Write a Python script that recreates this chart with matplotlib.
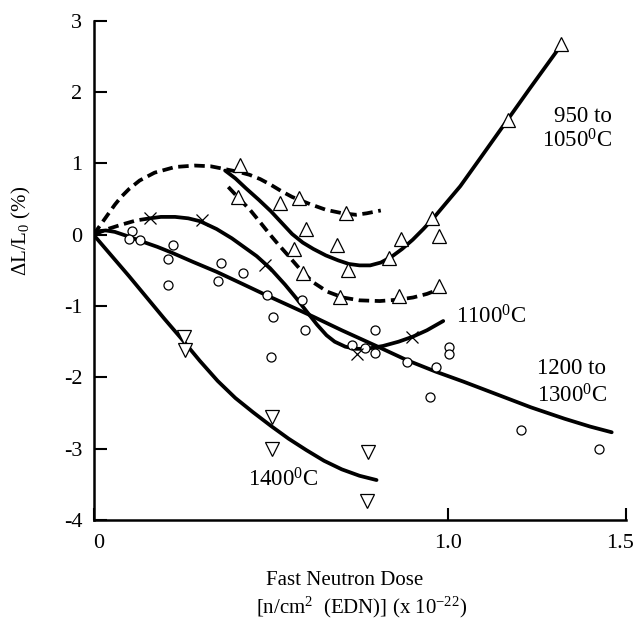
import matplotlib
matplotlib.use("Agg")
import matplotlib.pyplot as plt
import matplotlib.transforms as mtransforms

plt.rcParams['font.family'] = ['Liberation Serif', 'DejaVu Serif']
plt.rcParams['mathtext.fontset'] = 'custom'
plt.rcParams['mathtext.rm'] = 'Liberation Serif'
plt.rcParams['mathtext.it'] = 'Liberation Serif:italic'
plt.rcParams['axes.unicode_minus'] = False

# ---------------- data ----------------
# 950 to 1050 C  (open up-triangles)
tri_x = [1.317, 1.169, 0.413, 0.407, 0.526, 0.580, 0.598, 0.565, 0.687, 0.590,
         0.711, 0.717, 0.695, 0.834, 0.866, 0.953, 0.975, 0.860, 0.975]
tri_y = [2.67, 1.61, 0.98, 0.53, 0.44, 0.52, 0.08, -0.20, -0.14, -0.54,
         0.30, -0.49, -0.87, -0.32, -0.06, 0.23, -0.02, -0.86, -0.72]

# 1200 to 1300 C  (open circles)
circ_x = [0.109, 0.101, 0.131, 0.223, 0.209, 0.211, 0.359, 0.352, 0.422, 0.490,
          0.505, 0.500, 0.589, 0.596, 0.728, 0.765, 0.794, 0.794, 0.885, 0.965,
          1.003, 1.001, 0.949, 1.204, 1.426]
circ_y = [0.05, -0.06, -0.08, -0.15, -0.34, -0.70, -0.39, -0.65, -0.54, -0.85,
          -1.16, -1.71, -0.91, -1.34, -1.55, -1.59, -1.34, -1.66, -1.78, -1.86,
          -1.58, -1.67, -2.28, -2.74, -3.01]

# 1100 C  (crosses)
cross_x = [0.159, 0.305, 0.484, 0.744, 0.897]
cross_y = [0.23, 0.21, -0.42, -1.67, -1.44]

# 1400 C  (open down-triangles)
dtri_x = [0.256, 0.258, 0.502, 0.502, 0.775, 0.770]
dtri_y = [-1.43, -1.62, -2.55, -3.00, -3.04, -3.73]

# fitted curves
c950_x = [0.371, 0.40, 0.43, 0.466, 0.50, 0.53, 0.56, 0.59, 0.62, 0.655, 0.69,
          0.72, 0.75, 0.78, 0.81, 0.84, 0.87, 0.90, 0.93, 0.958, 0.99, 1.034,
          1.09, 1.15, 1.23, 1.307]
c950_y = [0.90, 0.79, 0.65, 0.49, 0.33, 0.17, 0.01, -0.11, -0.20, -0.29, -0.36,
          -0.41, -0.43, -0.43, -0.39, -0.31, -0.20, -0.07, 0.08, 0.23, 0.42, 0.68,
          1.07, 1.49, 2.05, 2.58]

top_dash_x = [0.0, 0.02, 0.04, 0.06, 0.078, 0.10, 0.13, 0.172, 0.23, 0.286,
              0.33, 0.371, 0.41, 0.44, 0.47, 0.50, 0.53, 0.56, 0.61, 0.655,
              0.703, 0.74, 0.77, 0.81]
top_dash_y = [0.0, 0.14, 0.28, 0.42, 0.53, 0.64, 0.76, 0.87, 0.95, 0.97,
              0.96, 0.92, 0.88, 0.84, 0.78, 0.70, 0.61, 0.53, 0.43, 0.35,
              0.30, 0.28, 0.30, 0.34]

low_dash_x = [0.38, 0.41, 0.441, 0.469, 0.498, 0.52, 0.545, 0.58, 0.617, 0.66,
              0.703, 0.75, 0.807, 0.86, 0.901, 0.94, 0.977]
low_dash_y = [0.67, 0.51, 0.35, 0.18, 0.0, -0.13, -0.27, -0.47, -0.66, -0.80,
              -0.88, -0.92, -0.93, -0.91, -0.88, -0.83, -0.76]

c1100_dash_x = [0.0, 0.04, 0.078, 0.12, 0.159]
c1100_dash_y = [0.0, 0.08, 0.14, 0.20, 0.23]
c1100_x = [0.159, 0.19, 0.23, 0.267, 0.30, 0.347, 0.39, 0.418, 0.46, 0.498,
           0.54, 0.57, 0.60, 0.63, 0.657, 0.68, 0.71, 0.74, 0.77, 0.816,
           0.86, 0.90, 0.94, 0.986]
c1100_y = [0.23, 0.25, 0.25, 0.23, 0.19, 0.08, -0.05, -0.15, -0.30, -0.47,
           -0.70, -0.88, -1.07, -1.26, -1.41, -1.50, -1.57, -1.60, -1.60, -1.56,
           -1.50, -1.43, -1.34, -1.21]

c1200_x = [0.0, 0.015, 0.035, 0.06, 0.09, 0.134, 0.18, 0.22, 0.28, 0.347,
           0.42, 0.488, 0.55, 0.62, 0.70, 0.793, 0.884, 0.965, 1.043, 1.138,
           1.233, 1.328, 1.40, 1.461]
c1200_y = [0.0, 0.05, 0.06, 0.04, -0.01, -0.09, -0.17, -0.25, -0.38, -0.52,
           -0.69, -0.85, -0.99, -1.15, -1.34, -1.55, -1.76, -1.92, -2.06, -2.24,
           -2.42, -2.58, -2.69, -2.77]

c1400_x = [0.0, 0.05, 0.10, 0.15, 0.20, 0.25, 0.30, 0.35, 0.40, 0.45, 0.50,
           0.55, 0.60, 0.65, 0.70, 0.75, 0.798]
c1400_y = [0.0, -0.29, -0.58, -0.88, -1.18, -1.47, -1.77, -2.05, -2.29, -2.49,
           -2.68, -2.86, -3.02, -3.17, -3.29, -3.38, -3.44]

x_ticks = [0.0, 1.0, 1.5]
x_tick_labels = ['0', '1.0', '1.5']
y_ticks = [-4, -3, -2, -1, 0, 1, 2, 3]
y_tick_labels = ['-4', '-3', '-2', '-1', '0', '1', '2', '3']

# ---------------- figure ----------------
fig = plt.figure(figsize=(6.37, 6.28), dpi=100)
ax = fig.add_axes([0.1468, 0.1720, 0.8352, 0.7949])

lw = 2.7
dash = (0, (2.8, 1.5))
kw = dict(color='black', lw=lw, solid_capstyle='round', solid_joinstyle='round',
          zorder=2)
ax.plot(c950_x, c950_y, **kw)
ax.plot(top_dash_x, top_dash_y, linestyle=dash, **kw)
ax.plot(low_dash_x, low_dash_y, linestyle=dash, **kw)
ax.plot(c1100_dash_x, c1100_dash_y, linestyle=dash, **kw)
ax.plot(c1100_x, c1100_y, **kw)
ax.plot(c1200_x, c1200_y, **kw)
ax.plot(c1400_x, c1400_y, **kw)

mkw = dict(linestyle='none', markerfacecolor='white', markeredgecolor='black',
           markeredgewidth=0.9, zorder=3)
ax.plot(tri_x, tri_y, marker='^', markersize=10.5, **mkw)
ax.plot(dtri_x, dtri_y, marker='v', markersize=10.5, **mkw)
ax.plot(circ_x, circ_y, marker='o', markersize=6.5, **mkw)
ax.plot(cross_x, cross_y, linestyle='none', marker='x', markersize=8,
        color='black', markeredgewidth=0.9, zorder=3)

ax.set_xlim(0, 1.5)
ax.set_ylim(-4, 3)
ax.set_xticks(x_ticks, x_tick_labels)
ax.set_yticks(y_ticks, y_tick_labels)
ax.tick_params(direction='in', length=9, width=1.5, labelsize=16, pad=10)
ax.tick_params(axis='y', pad=8)
for s in ['top', 'right']:
    ax.spines[s].set_visible(False)
for s in ['left', 'bottom']:
    ax.spines[s].set_linewidth(1.8)

# nudge edge tick labels so they stay inside the canvas like the reference
xlabels = ax.get_xticklabels()
off_last = mtransforms.ScaledTranslation(-5 / 100, 0, fig.dpi_scale_trans)
off_first = mtransforms.ScaledTranslation(5 / 100, 0, fig.dpi_scale_trans)
xlabels[-1].set_transform(xlabels[-1].get_transform() + off_last)
xlabels[0].set_transform(xlabels[0].get_transform() + off_first)

tfs = 16.5
ax.text(1.462, 1.585, '950 to', ha='right', va='baseline', fontsize=tfs)
ax.text(1.462, 1.22, '1050$^0$C', ha='right', va='baseline', fontsize=tfs)
ax.text(1.022, -1.243, '1100$^0$C', ha='left', va='baseline', fontsize=tfs)
ax.text(1.251, -1.958, '1200 to', ha='left', va='baseline', fontsize=tfs)
ax.text(1.251, -2.356, '1300$^0$C', ha='left', va='baseline', fontsize=tfs)
ax.text(0.436, -3.525, '1400$^0$C', ha='left', va='baseline', fontsize=tfs)

fig.text(0.0345, 0.632, r'$\Delta$L/L$_0$ (%)', rotation=90, ha='center',
         va='center', fontsize=15)
fig.text(0.5416, 0.0764, 'Fast Neutron Dose', ha='center', va='center', fontsize=15)
fig.text(0.568, 0.0334, r'[n/cm$^2$  (EDN)] (x 10$^{-22}$)', ha='center',
         va='center', fontsize=15)

fig.savefig('out.png', dpi=100)
